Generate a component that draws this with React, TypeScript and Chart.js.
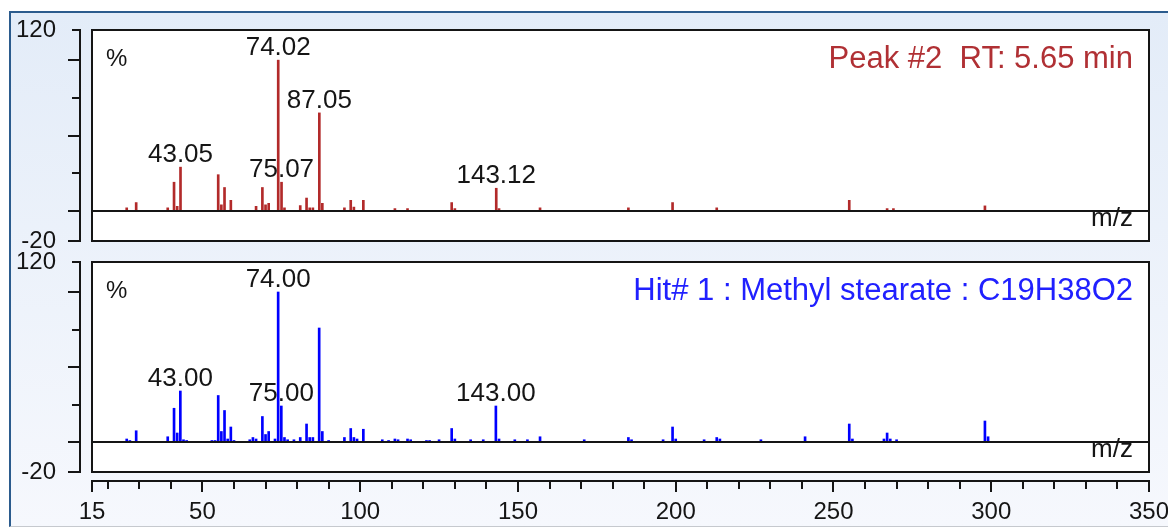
import { useEffect, useRef } from "react";
import { Chart, registerables } from "chart.js";

Chart.register(...registerables);

const FONT = '"Liberation Sans", Arial, sans-serif';
const INK = "#151515";

// m/z axis
const MZ_MIN = 15;
const MZ_MAX = 350;
const MZ_LABEL_TICKS = [15, 50, 100, 150, 200, 250, 300, 350];
const MZ_MINOR_STEP = 10;

// relative intensity axis (%)
const INT_MIN = -20;
const INT_MAX = 120;
const INT_TICKS = [-20, 0, 25, 50, 75, 100, 120];
const INT_LABEL_TICKS = [-20, 120];
const INT_LONG_TICKS = [-20, 0, 50, 100];

// measured spectrum of the peak
const PEAK_TITLE = "Peak #2  RT: 5.65 min";
const PEAK_MZ = [
  26, 29, 39, 41, 42, 43.05, 55, 56, 57, 59,
  67, 69, 70, 71, 74.02, 75.07, 76, 81, 83, 84,
  85, 87.05, 88, 95, 97, 98, 101, 111, 115, 129,
  130, 143.12, 144, 157, 185, 199, 213, 255, 267, 269,
  298,
];
const PEAK_INT = [
  2, 5.5, 2, 19, 3, 29, 24, 4, 15.5, 7,
  3, 15.5, 4, 5, 100, 19, 2, 3.5, 8.5, 2,
  2, 65, 5, 2, 7, 2.5, 7, 1.5, 1.5, 5.5,
  1.5, 15, 1.5, 2, 2, 5.5, 2, 7, 1.5, 1.5,
  3.3,
];
const PEAK_ANNOTATED = [74.02, 87.05, 43.05, 75.07, 143.12];

// library hit spectrum
const HIT_TITLE = "Hit# 1 : Methyl stearate : C19H38O2";
const HIT_MZ = [
  26, 27, 29, 39, 41, 42, 43.0, 44, 45, 53,
  54, 55, 56, 57, 58, 59, 60, 65, 66, 67,
  69, 70, 71, 73, 74.0, 75.0, 76, 77, 79, 81,
  83, 84, 85, 87, 88, 90, 95, 97, 98, 99,
  101, 107, 109, 111, 112, 115, 116, 121, 122, 125,
  129, 130, 135, 139, 143.0, 144, 149, 153, 157, 171,
  185, 186, 196, 199, 200, 209, 213, 214, 227, 241,
  255, 256, 266, 267, 268, 270, 298, 299,
];
const HIT_INT = [
  2, 1, 7.5, 3.5, 22.5, 6, 34, 1.5, 1, 1,
  1, 31, 7, 21, 2, 10, 1, 1.5, 3, 2,
  17, 5, 7, 2, 100, 24, 3, 1.5, 1.5, 3,
  12, 3, 3, 76, 7, 1, 3, 9, 3, 2,
  8.5, 1.5, 1, 2, 1.5, 2, 1.5, 1, 1, 1.5,
  9, 2, 1.5, 1.5, 24, 2, 1.5, 1.5, 3.5, 1.5,
  3, 1.5, 1.5, 10, 2, 1.5, 3, 2, 1.5, 3.5,
  12, 2, 2, 6, 2, 1.5, 14, 3.5,
];
const HIT_ANNOTATED = [74.0, 43.0, 75.0, 143.0];

// layout
const CANVAS_W = 1168;
const PLOT_LEFT = 92;
const PLOT_RIGHT = 1149;
const AXIS_GAP = 12;

type PanelConfig = {
  mz: number[];
  intensity: number[];
  annotated: number[];
  color: string;
  title: string;
  titleColor: string;
  height: number;
  plotTop: number;
  plotBottom: number;
  showMzAxis: boolean;
};

function seg(ctx: CanvasRenderingContext2D, x1: number, y1: number, x2: number, y2: number) {
  ctx.beginPath();
  ctx.moveTo(x1, y1);
  ctx.lineTo(x2, y2);
  ctx.stroke();
}

function buildPanel(canvas: HTMLCanvasElement, cfg: PanelConfig) {
  const data = cfg.mz.map((m, i) => ({ x: m, y: cfg.intensity[i] }));

  const decorations = {
    id: "spectrumPanel",
    beforeDatasetsDraw(chart: any) {
      const { ctx, chartArea: a } = chart;
      ctx.save();
      ctx.fillStyle = "#ffffff";
      ctx.fillRect(a.left, a.top, a.right - a.left, a.bottom - a.top);
      ctx.restore();
    },
    afterDatasetsDraw(chart: any) {
      const { ctx, chartArea: a, scales } = chart;
      const xs = scales.x;
      const ys = scales.y;
      ctx.save();
      ctx.strokeStyle = INK;
      ctx.lineWidth = 2;
      ctx.lineCap = "butt";

      // zero line and frame
      const y0 = Math.round(ys.getPixelForValue(0));
      seg(ctx, a.left, y0, a.right, y0);
      ctx.strokeRect(Math.round(a.left), Math.round(a.top), Math.round(a.right - a.left), Math.round(a.bottom - a.top));

      // intensity axis bracket
      const ax = Math.round(a.left) - AXIS_GAP;
      seg(ctx, ax, Math.round(ys.getPixelForValue(INT_MAX)) - 1, ax, Math.round(ys.getPixelForValue(INT_MIN)) + 1);
      for (const t of INT_TICKS) {
        const py = Math.round(ys.getPixelForValue(t));
        const len = INT_LONG_TICKS.includes(t) ? 12 : 8;
        seg(ctx, ax - len, py, ax, py);
      }

      // m/z axis bracket
      if (cfg.showMzAxis) {
        const ay = Math.round(a.bottom) + 9;
        seg(ctx, Math.round(xs.getPixelForValue(MZ_MIN)) - 1, ay, Math.round(xs.getPixelForValue(MZ_MAX)) + 1, ay);
        const marks = [MZ_MIN];
        for (let v = Math.ceil(MZ_MIN / MZ_MINOR_STEP) * MZ_MINOR_STEP; v <= MZ_MAX; v += MZ_MINOR_STEP) marks.push(v);
        for (const v of marks) {
          const px = Math.round(xs.getPixelForValue(v));
          const len = MZ_LABEL_TICKS.includes(v) ? 11 : 8;
          seg(ctx, px, ay, px, ay + len);
        }
      }

      // peak annotations
      ctx.fillStyle = INK;
      ctx.font = `26px ${FONT}`;
      ctx.textAlign = "center";
      ctx.textBaseline = "alphabetic";
      for (const m of cfg.annotated) {
        const i = cfg.mz.indexOf(m);
        if (i < 0) continue;
        const px = xs.getPixelForValue(m);
        const py = ys.getPixelForValue(cfg.intensity[i]);
        ctx.fillText(m.toFixed(2), px, py - 5);
      }

      // unit labels
      ctx.textAlign = "left";
      ctx.font = `24px ${FONT}`;
      ctx.fillText("%", a.left + 14, a.top + 36);
      ctx.textAlign = "right";
      ctx.font = `26px ${FONT}`;
      ctx.fillText("m/z", a.right - 16, y0 + 15);

      // panel title
      ctx.fillStyle = cfg.titleColor;
      ctx.font = `31px ${FONT}`;
      ctx.fillText(cfg.title, a.right - 16, a.top + 38);
      ctx.restore();
    },
  };

  const axisFont = { family: FONT, size: 24 };

  return new Chart(canvas, {
    type: "bar",
    data: {
      datasets: [
        {
          data,
          backgroundColor: cfg.color,
          borderWidth: 0,
          barThickness: 2,
        } as any,
      ],
    },
    options: {
      animation: false,
      responsive: false,
      maintainAspectRatio: false,
      devicePixelRatio: 1,
      events: [],
      layout: {
        padding: {
          left: 0,
          top: cfg.plotTop,
          right: CANVAS_W - PLOT_RIGHT,
          bottom: cfg.showMzAxis ? 0 : cfg.height - cfg.plotBottom,
        },
      },
      plugins: {
        legend: { display: false },
        tooltip: { enabled: false },
      },
      scales: {
        x: {
          type: "linear",
          min: MZ_MIN,
          max: MZ_MAX,
          offset: false,
          display: cfg.showMzAxis,
          afterBuildTicks: (s: any) => {
            s.ticks = MZ_LABEL_TICKS.map((v) => ({ value: v }));
          },
          afterFit: (s: any) => {
            s.height = cfg.showMzAxis ? cfg.height - cfg.plotBottom : 0;
            s.paddingLeft = 0;
            s.paddingRight = 0;
          },
          grid: { display: false, drawTicks: false, tickLength: 0 },
          border: { display: false },
          ticks: {
            autoSkip: false,
            maxRotation: 0,
            minRotation: 0,
            padding: 26,
            color: INK,
            font: axisFont,
          },
        },
        y: {
          type: "linear",
          min: INT_MIN,
          max: INT_MAX,
          afterBuildTicks: (s: any) => {
            s.ticks = INT_TICKS.map((v) => ({ value: v }));
          },
          afterFit: (s: any) => {
            s.width = PLOT_LEFT;
            s.paddingTop = 0;
            s.paddingBottom = 0;
          },
          grid: { display: false, drawTicks: false, tickLength: 0 },
          border: { display: false },
          ticks: {
            autoSkip: false,
            padding: 36,
            color: INK,
            font: axisFont,
            callback: (v: any) => (INT_LABEL_TICKS.includes(Number(v)) ? String(v) : ""),
          },
        },
      } as any,
    },
    plugins: [decorations as any],
  });
}

const TOP_H = 262;
const BOTTOM_Y = 240;
const BOTTOM_H = 527 - BOTTOM_Y;

export default function App() {
  const topRef = useRef<HTMLCanvasElement>(null);
  const bottomRef = useRef<HTMLCanvasElement>(null);

  useEffect(() => {
    if (!topRef.current || !bottomRef.current) return;
    const top = buildPanel(topRef.current, {
      mz: PEAK_MZ,
      intensity: PEAK_INT,
      annotated: PEAK_ANNOTATED,
      color: "#b22a2a",
      title: PEAK_TITLE,
      titleColor: "#b03034",
      height: TOP_H,
      plotTop: 30,
      plotBottom: 241,
      showMzAxis: false,
    });
    const bottom = buildPanel(bottomRef.current, {
      mz: HIT_MZ,
      intensity: HIT_INT,
      annotated: HIT_ANNOTATED,
      color: "#0000ff",
      title: HIT_TITLE,
      titleColor: "#2020ff",
      height: BOTTOM_H,
      plotTop: 262 - BOTTOM_Y,
      plotBottom: 472 - BOTTOM_Y,
      showMzAxis: true,
    });
    return () => {
      top.destroy();
      bottom.destroy();
    };
  }, []);

  return (
    <div
      style={{
        position: "fixed",
        left: 0,
        top: 0,
        width: CANVAS_W,
        height: 527,
        background: "#ffffff",
        overflow: "hidden",
      }}
    >
      <div
        style={{
          position: "absolute",
          left: 9,
          top: 11,
          right: 0,
          bottom: 0,
          borderLeft: "2px solid #2b5b8d",
          borderTop: "2px solid #2b5b8d",
          borderBottom: "1px solid #c6c9ce",
          background: "linear-gradient(#e3ecf8, #f6f8fd)",
        }}
      />
      <canvas
        ref={topRef}
        width={CANVAS_W}
        height={TOP_H}
        style={{ position: "absolute", left: 0, top: 0, width: CANVAS_W, height: TOP_H }}
      />
      <canvas
        ref={bottomRef}
        width={CANVAS_W}
        height={BOTTOM_H}
        style={{ position: "absolute", left: 0, top: BOTTOM_Y, width: CANVAS_W, height: BOTTOM_H }}
      />
    </div>
  );
}
